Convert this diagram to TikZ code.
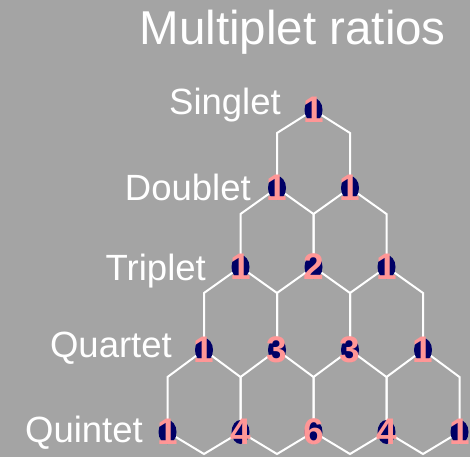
\documentclass[tikz,border=0pt]{standalone}
\usepackage{fontspec}
\setmainfont{Liberation Sans}
\usetikzlibrary{backgrounds,shapes.geometric}
\definecolor{slidegray}{HTML}{A4A4A4}
\definecolor{peaknavy}{HTML}{000066}
\definecolor{peakpink}{HTML}{FF9696}
\pgfdeclarelayer{edges}
\pgfsetlayers{background,edges,main}
\tikzset{
  % --- peaks of the multiplet (navy dot, pink ratio on top) ---
  peak/.style={ellipse, fill=peaknavy, minimum width=18pt, minimum height=24pt,
               inner sep=0pt},
  ratio/.style={text=peakpink, font=\fontsize{37}{37}\selectfont\bfseries,
                inner sep=0pt},
  % --- row names and title ---
  mult/.style={text=white, font=\fontsize{36.5}{40}\selectfont,
               anchor=base east, inner sep=0pt},
  slidetitle/.style={mult, font=\fontsize{47.5}{50}\selectfont},
  % --- splitting tree ---
  hexline/.style={draw=white, line width=2pt},
}

\begin{document}
\begin{tikzpicture}[x=1pt, y=-1pt]
  \useasboundingbox (0,0) rectangle (470,457);
  \begin{pgfonlayer}{background}
    \fill[slidegray] (0,0) rectangle (470,457);
  \end{pgfonlayer}

  % --- title ---
  \node[slidetitle] (title) at (446,45) {Multiplet ratios};

  % --- peaks, row by row (Pascal's triangle) ---
  \foreach \r/\y/\vals in {0/110/{1}, 1/188/{1,1}, 2/267/{1,2,1},
                           3/350/{1,3,3,1}, 4/432/{1,4,6,4,1}}
    \foreach \v [count=\k from 0] in \vals {
      \node[peak] (n-\r-\k) at ({313.5+(\k-\r/2)*73}, \y) {};
      \node[ratio] (d-\r-\k) at (n-\r-\k) {\v};
    }

  % --- branch points below each row ---
  \foreach \r/\y in {0/133, 1/214, 2/293, 3/377, 4/454}
    \foreach \j in {0,...,\numexpr\r+1\relax}
      \coordinate (v-\r-\j) at ({313.5+(\j-\r/2-0.5)*73}, \y);

  % --- row names ---
  \node[mult] (singlet) at (281,115) {Singlet};
  \node[mult] (doublet) at (251,200) {Doublet};
  \node[mult] (triplet) at (206,280) {Triplet};
  \node[mult] (quartet) at (172,357) {Quartet};
  \node[mult] (quintet) at (143,442) {Quintet};

  % --- splitting lines (behind the peaks) ---
  \begin{pgfonlayer}{edges}
    \foreach \r in {0,...,3}
      \foreach \k in {0,...,\r} {
        \pgfmathtruncatemacro\kk{\k+1}
        \pgfmathtruncatemacro\rr{\r+1}
        \draw[hexline] (n-\r-\k.center) -- (v-\r-\k) -- (n-\rr-\k.center);
        \draw[hexline] (n-\r-\k.center) -- (v-\r-\kk) -- (n-\rr-\kk.center);
      }
    % bottom row: only the inner zigzag
    \foreach \k in {0,...,3} {
      \pgfmathtruncatemacro\kk{\k+1}
      \draw[hexline] (n-4-\k.center) -- (v-4-\kk) -- (n-4-\kk.center);
    }
  \end{pgfonlayer}
\end{tikzpicture}
\end{document}
